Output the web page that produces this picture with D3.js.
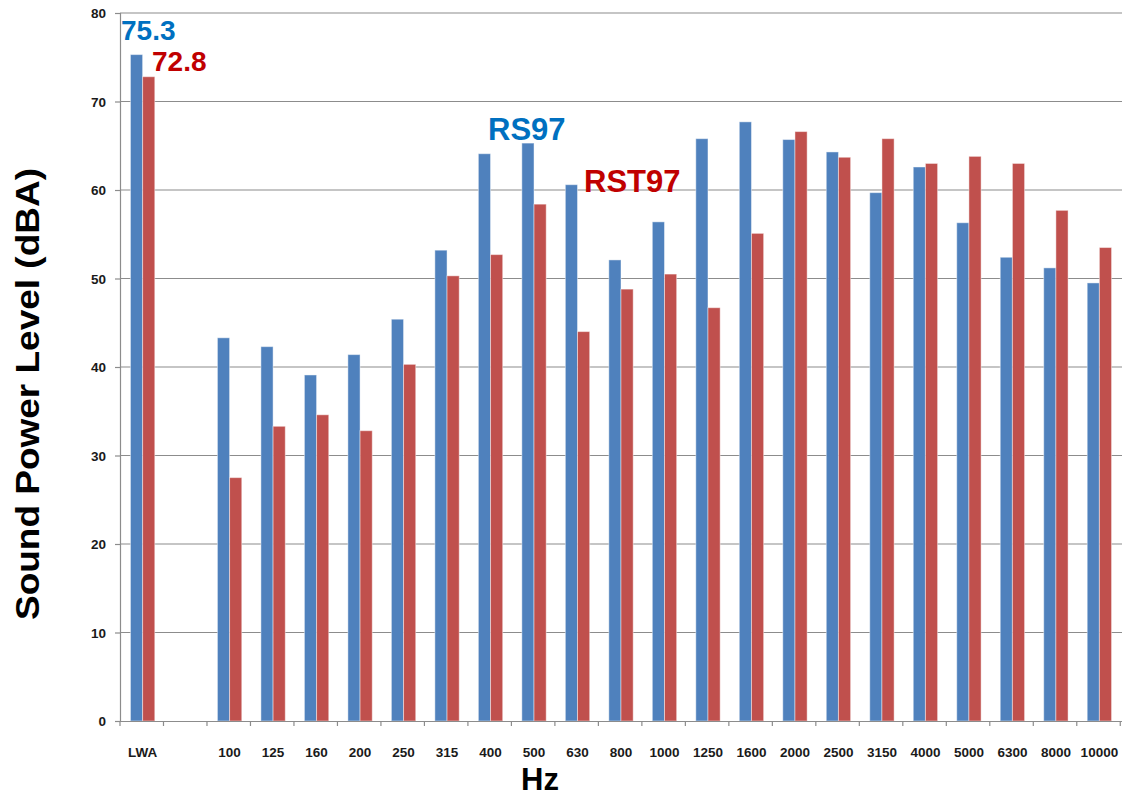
<!DOCTYPE html>
<html>
<head>
<meta charset="utf-8">
<script src="https://cdn.jsdelivr.net/npm/d3@7"></script>
<style>
  body { margin: 0; background: #fff; }
  svg { display: block; font-family: "Liberation Sans", Arial, sans-serif; }
  .tick text { font-size: 13.5px; font-weight: bold; fill: #1a1a1a; }
</style>
</head>
<body>
<svg width="1122" height="798"></svg>
<script>
var bands = ["LWA", "", "100", "125", "160", "200", "250", "315", "400", "500", "630", "800",
             "1000", "1250", "1600", "2000", "2500", "3150", "4000", "5000", "6300", "8000", "10000"];
var rs97  = [75.3, null, 43.3, 42.3, 39.1, 41.4, 45.4, 53.2, 64.1, 65.3, 60.6, 52.1,
             56.4, 65.8, 67.7, 65.7, 64.3, 59.7, 62.6, 56.3, 52.4, 51.2, 49.5];
var rst97 = [72.8, null, 27.5, 33.3, 34.6, 32.8, 40.3, 50.3, 52.7, 58.4, 44.0, 48.8,
             50.5, 46.7, 55.1, 66.6, 63.7, 65.8, 63.0, 63.8, 63.0, 57.7, 53.5];
var yTicks = [0, 10, 20, 30, 40, 50, 60, 70, 80];
var seriesNames = ["RS97", "RST97"];

var svg = d3.select("svg"),
    margin = {top: 13, right: 0, bottom: 77, left: 120},
    width = +svg.attr("width") - margin.left - margin.right,
    height = +svg.attr("height") - margin.top - margin.bottom,
    g = svg.append("g").attr("transform", "translate(" + margin.left + "," + margin.top + ")");

var x0 = d3.scaleBand()
    .domain(bands)
    .range([0, width])
    .paddingInner(0.44)
    .paddingOuter(0.24);

var x1 = d3.scaleBand()
    .domain(seriesNames)
    .range([0, x0.bandwidth()]);

var y = d3.scaleLinear()
    .domain([0, 80])
    .range([height, 0]);

var color = d3.scaleOrdinal()
    .domain(seriesNames)
    .range(["#4f81bd", "#c0504d"]);

// grid
g.append("g")
    .selectAll("line")
    .data(yTicks.slice(1))
    .enter().append("line")
      .attr("x1", 0)
      .attr("x2", width)
      .attr("y1", function(d) { return y(d); })
      .attr("y2", function(d) { return y(d); })
      .attr("stroke", "#8c8c8c")
      .attr("stroke-width", 1.2);

var rows = bands.map(function(b, i) {
  return {band: b, vals: [{key: "RS97", v: rs97[i]}, {key: "RST97", v: rst97[i]}]};
});

g.append("g")
  .selectAll("g")
  .data(rows)
  .enter().append("g")
    .attr("transform", function(d) { return "translate(" + x0(d.band) + ",0)"; })
  .selectAll("rect")
  .data(function(d) { return d.vals.filter(function(e) { return e.v != null; }); })
  .enter().append("rect")
    .attr("x", function(d) { return x1(d.key); })
    .attr("y", function(d) { return y(d.v); })
    .attr("width", x1.bandwidth())
    .attr("height", function(d) { return height - y(d.v); })
    .attr("fill", function(d) { return color(d.key); })
    .attr("stroke", "rgba(255,255,255,0.45)")
    .attr("stroke-width", 1);

var xAxis = g.append("g")
    .attr("transform", "translate(0," + height + ")")
    .call(d3.axisBottom(x0).tickSize(0).tickPadding(26));
xAxis.select(".domain").attr("stroke", "#8c8c8c").attr("stroke-width", 1.2);

// tick marks between the categories
g.append("g")
    .selectAll("line")
    .data(d3.range(bands.length + 1))
    .enter().append("line")
      .attr("x1", function(i) { return i * x0.step(); })
      .attr("x2", function(i) { return i * x0.step(); })
      .attr("y1", height)
      .attr("y2", height + 5)
      .attr("stroke", "#8c8c8c")
      .attr("stroke-width", 1.2);

var yAxis = g.append("g")
    .call(d3.axisLeft(y).tickValues(yTicks).tickSize(5).tickPadding(9));
yAxis.select(".domain").attr("stroke", "#8c8c8c").attr("stroke-width", 1.2);
yAxis.selectAll(".tick line").attr("stroke", "#8c8c8c").attr("stroke-width", 1.2);
yAxis.selectAll(".tick text").attr("dy", "0.35em");

svg.append("text")
    .attr("transform", "translate(39,394) rotate(-90)")
    .attr("text-anchor", "middle")
    .attr("font-size", "33px")
    .attr("font-weight", "bold")
    .attr("fill", "#000")
    .attr("textLength", 452)
    .attr("lengthAdjust", "spacingAndGlyphs")
    .text("Sound Power Level (dBA)");

svg.append("text")
    .attr("x", 540)
    .attr("y", 790)
    .attr("text-anchor", "middle")
    .attr("font-size", "31px")
    .attr("font-weight", "bold")
    .attr("fill", "#000")
    .text("Hz");

// value labels on LWA and series labels
var notes = [
  {text: rs97[0].toFixed(1), color: "#0070c0", x: 121, y: 40, size: 28},
  {text: rst97[0].toFixed(1), color: "#c00000", x: 152, y: 71, size: 28},
  {text: seriesNames[0], color: "#0070c0", x: 488, y: 140, size: 31},
  {text: seriesNames[1], color: "#c00000", x: 584, y: 192, size: 31}
];

svg.append("g")
  .selectAll("text")
  .data(notes)
  .enter().append("text")
    .attr("x", function(d) { return d.x; })
    .attr("y", function(d) { return d.y; })
    .attr("font-size", function(d) { return d.size + "px"; })
    .attr("font-weight", "bold")
    .attr("fill", function(d) { return d.color; })
    .text(function(d) { return d.text; });
</script>
</body>
</html>
